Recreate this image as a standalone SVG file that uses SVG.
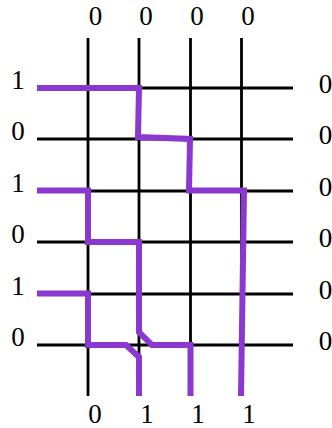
<svg xmlns="http://www.w3.org/2000/svg" width="332" height="428" viewBox="0 0 332 428">
<style>
.grid{stroke:#000;stroke-width:2.8;fill:none}
.path{stroke:#8A38CF;stroke-width:6;fill:none;stroke-linejoin:miter}
</style>
<rect width="332" height="428" fill="#fff"/>
<g id="grid">
<line class="grid" x1="88" y1="38" x2="88" y2="396"/>
<line class="grid" x1="139" y1="38" x2="139" y2="396"/>
<line class="grid" x1="190.5" y1="38" x2="190.5" y2="396"/>
<line class="grid" x1="241.5" y1="38" x2="241.5" y2="396"/>
<line class="grid" x1="37" y1="88" x2="293" y2="88"/>
<line class="grid" x1="37" y1="139" x2="293" y2="139"/>
<line class="grid" x1="37" y1="191" x2="293" y2="191"/>
<line class="grid" x1="37" y1="242" x2="293" y2="242"/>
<line class="grid" x1="37" y1="294" x2="293" y2="294"/>
<line class="grid" x1="37" y1="345" x2="293" y2="345"/>
</g>
<g id="connectors">
<path class="path" d="M37,88 L139,88 L138,137 L190,139 L189,190.5 L244,190.5 L241,396"/>
<path class="path" d="M37,190.5 L88,190.5 L88,242 L139,242 L139,332 L152,345 L190.5,345 L190.5,396"/>
<path class="path" d="M37,293.5 L88,293.5 L88,345 L126,345 L139,357 L139,396"/>
</g>
<g id="labels" font-family="'Liberation Serif', 'Times New Roman', serif" font-size="27" fill="#000" text-anchor="middle">
<g id="top-labels">
<text x="95.5" y="25">0</text>
<text x="146" y="25">0</text>
<text x="197" y="25">0</text>
<text x="248" y="25">0</text>
</g>
<g id="left-labels">
<text x="18" y="89">1</text>
<text x="18" y="140">0</text>
<text x="18" y="192">1</text>
<text x="18" y="243">0</text>
<text x="18" y="295">1</text>
<text x="18" y="346">0</text>
</g>
<g id="right-labels">
<text x="325.5" y="93">0</text>
<text x="325.5" y="144">0</text>
<text x="325.5" y="196">0</text>
<text x="325.5" y="247">0</text>
<text x="325.5" y="299">0</text>
<text x="325.5" y="350">0</text>
</g>
<g id="bottom-labels">
<text x="95" y="423">0</text>
<text x="147" y="423">1</text>
<text x="198" y="423">1</text>
<text x="249" y="423">1</text>
</g>
</g>
</svg>
